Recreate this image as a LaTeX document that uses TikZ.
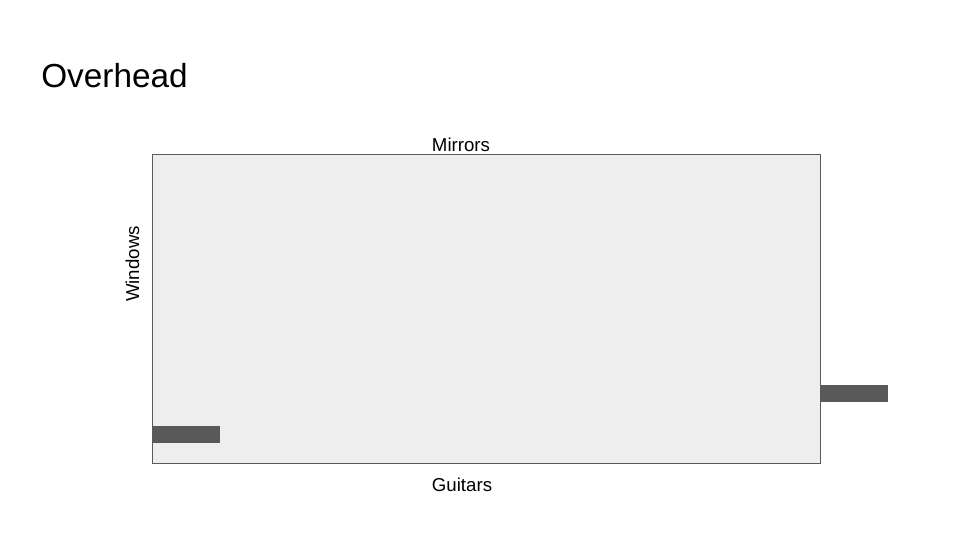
\documentclass[tikz,border=0pt]{standalone}
\usepackage{fontspec}
\setmainfont{Liberation Sans}
\definecolor{roomfill}{HTML}{EEEEEE}
\definecolor{roomline}{HTML}{595959}
\definecolor{barfill}{HTML}{595959}
\begin{document}
\begin{tikzpicture}[x=0.75pt,y=-0.75pt,
  room/.style={draw=roomline,fill=roomfill,line width=0.75pt},
  bar/.style={fill=barfill,draw=none},
  lbl/.style={font=\fontsize{14}{16}\selectfont,inner sep=0pt,anchor=base},
  ttl/.style={font=\fontsize{25}{30}\selectfont,inner sep=0pt,anchor=base west}]
\useasboundingbox (0,0) rectangle (960,540);
\fill[white] (0,0) rectangle (960,540);
\node[ttl] (title) at (41,87) {Overhead};
\draw[room] (152,154) rectangle (820,463);
\coordinate (room) at (486,308);
\fill[bar] (152.4,426) rectangle (220,443);
\fill[bar] (820,385) rectangle (888,402);
\node[lbl] (mirrors) at (461,151) {Mirrors};
\node[lbl] (guitars) at (462,491) {Guitars};
\node[lbl,rotate=90] (windows) at (139,264) {Windows};
\end{tikzpicture}
\end{document}
